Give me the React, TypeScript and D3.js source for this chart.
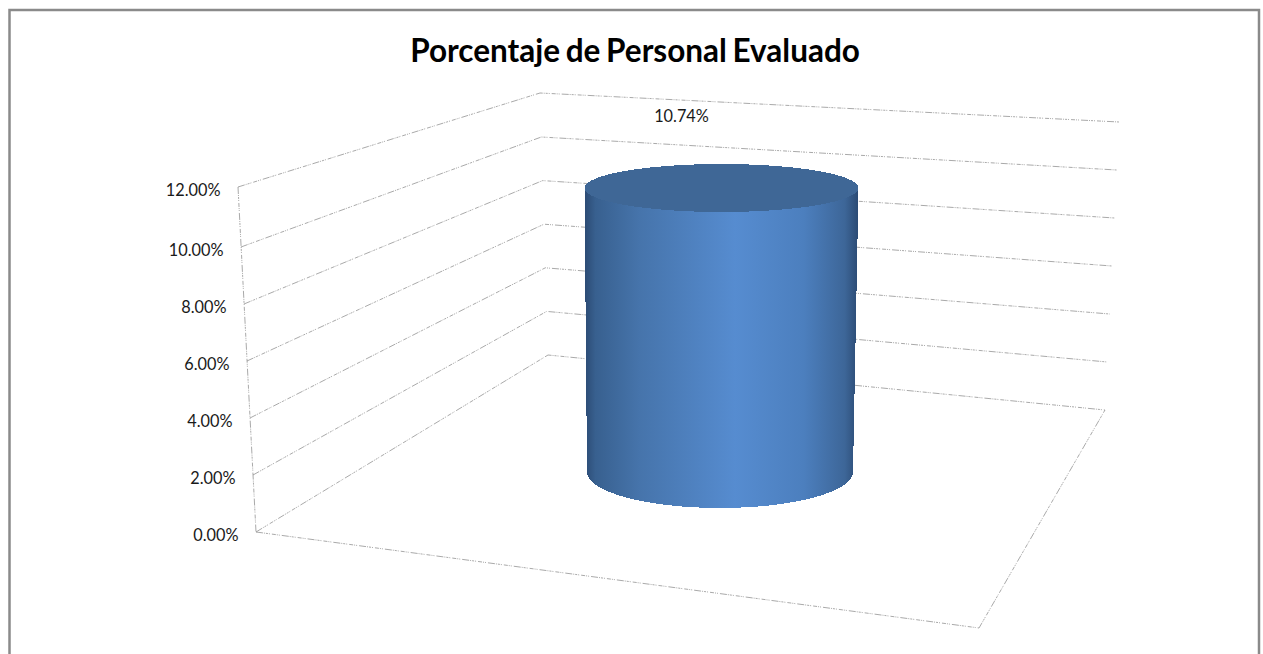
import * as d3 from "d3";

const title = "Porcentaje de Personal Evaluado";
const tickValues = [0, 2, 4, 6, 8, 10, 12];
const barValue = 10.74;
const barLabel = "10.74%";

const width = 1263;
const height = 654;
const font = "Lato, 'Open Sans', sans-serif";

// the three vertical edges of the fake 3D box
const frontX = d3.scaleLinear().domain([0, 12]).range([256, 238]);
const frontY = d3.scaleLinear().domain([0, 10, 12]).range([532, 247, 187]);
const backX = d3.scaleLinear().domain([0, 12]).range([548, 540]);
const backY = d3.scaleLinear().domain([0, 10, 12]).range([355, 137, 93]);
const rightX = d3.scaleLinear().domain([0, 12]).range([1105, 1119]);
const rightY = d3.scaleLinear().domain([0, 12]).range([410, 122]);

// cylinder: centre line, half width and ellipse height by value
const cylY = d3.scaleLinear().domain([0, barValue]).range([472, 188]);
const cylCx = d3.scaleLinear().domain([0, barValue]).range([720, 721.5]);
const cylRx = d3.scaleLinear().domain([0, barValue]).range([133, 137]);
const cylRy = d3.scaleLinear().domain([0, barValue]).range([36, 24]);

const line = d3.line<[number, number]>();
const pct = d3.format(".2f");

const gridStyle = {
  fill: "none",
  stroke: "#8c8c8c",
  strokeWidth: 1,
  strokeDasharray: "7 1 1 1 2 1 1 2 4 1 1 1 1 2",
  strokeOpacity: 0.75,
};

export default function App() {
  const top = barValue;
  const topY = cylY(top);
  const topCx = cylCx(top);
  const topRx = cylRx(top);
  const topRy = cylRy(top);
  const baseY = cylY(0);
  const baseCx = cylCx(0);
  const baseRx = cylRx(0);
  const baseRy = cylRy(0);

  const body =
    `M${topCx - topRx},${topY}` +
    `L${baseCx - baseRx},${baseY}` +
    `A${baseRx},${baseRy} 0 0 0 ${baseCx + baseRx},${baseY}` +
    `L${topCx + topRx},${topY}` +
    `A${topRx},${topRy} 0 0 1 ${topCx - topRx},${topY}Z`;

  return (
    <svg
      width={width}
      height={height}
      style={{ position: "absolute", left: 0, top: 0, background: "#fff" }}
    >
      <defs>
        <linearGradient id="cyl" x1="0" x2="1" y1="0" y2="0">
          <stop offset="0" stopColor="#2b4a73" />
          <stop offset="0.04" stopColor="#38608f" />
          <stop offset="0.2" stopColor="#4674ab" />
          <stop offset="0.55" stopColor="#568cd0" />
          <stop offset="0.8" stopColor="#4c7fbe" />
          <stop offset="0.95" stopColor="#3d6698" />
          <stop offset="1" stopColor="#2b4a73" />
        </linearGradient>
      </defs>

      <rect x={9.5} y={10} width={1249.5} height={660} fill="#fff" stroke="#8a8a8a" strokeWidth={2.5} />

      <text
        x={635}
        y={50}
        textAnchor="middle"
        dominantBaseline="central"
        fontFamily={font}
        fontWeight={700}
        fontSize={31.5}
        wordSpacing={-2}
        fill="#000"
      >
        {title}
      </text>

      {/* walls */}
      {tickValues.map((v) => (
        <path
          key={v}
          {...gridStyle}
          d={
            line([
              [frontX(v), frontY(v)],
              [backX(v), backY(v)],
              [rightX(v), rightY(v)],
            ]) as string
          }
        />
      ))}
      <path
        {...gridStyle}
        d={line([[frontX(12), frontY(12)], [frontX(0), frontY(0)]]) as string}
      />

      {/* floor front edges */}
      <path
        {...gridStyle}
        d={line([[frontX(0), frontY(0)], [979, 628], [rightX(0), rightY(0)]]) as string}
      />

      {tickValues.map((v) => (
        <text
          key={v}
          x={frontX(v) - 17.5}
          y={frontY(v) + 2.5}
          textAnchor="end"
          dominantBaseline="central"
          fontFamily={font}
          fontSize={16.3}
          fill="#1a1a1a"
        >
          {pct(v)}%
        </text>
      ))}

      <path d={body} fill="url(#cyl)" shapeRendering="crispEdges" />
      <ellipse cx={topCx} cy={topY} rx={topRx} ry={topRy} fill="#3f6796" shapeRendering="crispEdges" />

      <text
        x={681.5}
        y={115}
        textAnchor="middle"
        dominantBaseline="central"
        fontFamily={font}
        fontSize={16.3}
        fill="#1a1a1a"
      >
        {barLabel}
      </text>
    </svg>
  );
}
